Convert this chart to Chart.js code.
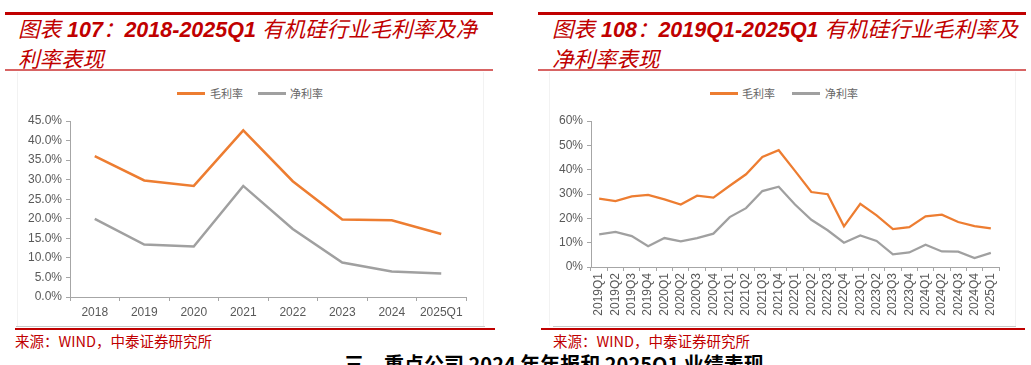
<!DOCTYPE html>
<html>
<head>
<meta charset="utf-8">
<script src="https://cdn.jsdelivr.net/npm/chart.js@4/dist/chart.umd.min.js"></script>
<style>
  body { margin: 0; width: 1031px; height: 365px; overflow: hidden; background: #fff; position: relative;
         font-family: "Liberation Sans", Arial, "Noto Sans CJK SC", sans-serif; }
  .abs { position: absolute; }
  .rule-top { height: 3px; background: #c00000; top: 12px; }
  .rule-mid { height: 2px; background: #d86464; top: 69px; }
  .rule-bot { height: 2px; background: #c00000; top: 328px; }
  .title { top: 14px; color: #c00000; font-size: 21.5px; line-height: 27px; font-weight: bold; font-style: italic;
           font-family: "Liberation Sans", Arial, "Noto Sans CJK SC", sans-serif; white-space: nowrap; }
  .title .cn { font-weight: normal; font-family: "Noto Sans CJK SC", sans-serif; }
  .panel { top: 72px; width: 465px; height: 254px; border-left: 1px solid #f2f2f2; border-right: 1px solid #f2f2f2; }
  .panel-line { top: 326px; height: 1px; background: #c8c8c8; }
  .leg-line { height: 3px; width: 28px; top: 92px; }
  .leg-text { top: 85px; font-size: 11px; color: #666; font-family: "Noto Sans CJK SC", sans-serif; line-height: 16px; }
  .source { top: 331px; font-size: 14.5px; color: #c00000; font-family: "Noto Sans CJK SC", "Liberation Sans", sans-serif; line-height: 20px; white-space: nowrap; }
  .heading { top: 351px; left: 344px; font-size: 20px; font-weight: bold; color: #000; font-family: "Noto Sans CJK SC", sans-serif; line-height: 26px; white-space: nowrap; }
  canvas { position: absolute; }
</style>
</head>
<body>
<div class="abs rule-top" style="left:5px;width:488px"></div>
<div class="abs rule-top" style="left:538px;width:488px"></div>
<div class="abs title" style="left:18px"><span class="cn">图表</span> 107<span class="cn">：</span>2018-2025Q1 <span class="cn">有机硅行业毛利率及净<br>利率表现</span></div>
<div class="abs title" style="left:552px"><span class="cn">图表</span> 108<span class="cn">：</span>2019Q1-2025Q1 <span class="cn">有机硅行业毛利率及<br>净利率表现</span></div>
<div class="abs rule-mid" style="left:5px;width:488px"></div>
<div class="abs rule-mid" style="left:538px;width:488px"></div>

<div class="abs panel" style="left:17px"></div>
<div class="abs panel" style="left:549px"></div>
<div class="abs panel-line" style="left:16px;width:469px"></div>
<div class="abs panel-line" style="left:553px;width:463px"></div>

<div class="abs leg-line" style="left:177px;background:#ed7d31"></div>
<div class="abs leg-text" style="left:210px">毛利率</div>
<div class="abs leg-line" style="left:258px;background:#a0a0a0"></div>
<div class="abs leg-text" style="left:290px">净利率</div>
<div class="abs leg-line" style="left:710px;background:#ed7d31"></div>
<div class="abs leg-text" style="left:742px">毛利率</div>
<div class="abs leg-line" style="left:792px;background:#a0a0a0"></div>
<div class="abs leg-text" style="left:825px">净利率</div>

<canvas id="yearChart" width="466" height="254" style="left:17px;top:72px"></canvas>
<canvas id="quarterChart" width="466" height="254" style="left:550px;top:72px"></canvas>

<div class="abs rule-bot" style="left:15px;width:480px"></div>
<div class="abs rule-bot" style="left:541px;width:484px"></div>
<div class="abs source" style="left:15px">来源：WIND，中泰证券研究所</div>
<div class="abs source" style="left:553px">来源：WIND，中泰证券研究所</div>
<div class="abs heading">三、重点公司 2024 年年报和 2025Q1 业绩表现</div>

<script>
// annual data (%)
const years = ["2018", "2019", "2020", "2021", "2022", "2023", "2024", "2025Q1"];
const yearGross = [36.0, 29.8, 28.4, 42.6, 29.6, 19.8, 19.6, 16.1];
const yearNet = [20.0, 13.4, 12.9, 28.4, 17.4, 8.8, 6.5, 6.0];

// quarterly data (%)
const quarters = [
  "2019Q1", "2019Q2", "2019Q3", "2019Q4", "2020Q1", "2020Q2", "2020Q3", "2020Q4",
  "2021Q1", "2021Q2", "2021Q3", "2021Q4", "2022Q1", "2022Q2", "2022Q3", "2022Q4",
  "2023Q1", "2023Q2", "2023Q3", "2023Q4", "2024Q1", "2024Q2", "2024Q3", "2024Q4", "2025Q1"
];
const quarterGross = [
  28.1, 27.1, 29.0, 29.6, 27.8, 25.7, 29.3, 28.5,
  33.4, 38.1, 45.2, 48.0, 39.5, 30.8, 29.9, 16.7,
  26.0, 21.2, 15.6, 16.4, 20.8, 21.5, 18.5, 16.8, 15.9
];
const quarterNet = [
  13.4, 14.4, 12.7, 8.5, 11.9, 10.5, 11.9, 13.7,
  20.5, 24.2, 31.2, 33.0, 25.7, 19.4, 15.1, 10.0,
  13.0, 10.7, 5.2, 6.0, 9.2, 6.4, 6.3, 3.7, 5.8
];

const axisColor = "#a6a6a6";
const labelColor = "#595959";
const tickFont = { family: "'Liberation Sans', Arial, sans-serif", size: 12 };

function makeChart(id, labels, gross, net, opts) {
  const ctx = document.getElementById(id).getContext("2d");
  return new Chart(ctx, {
    type: "line",
    data: {
      labels,
      datasets: [
        { label: "毛利率", data: gross, borderColor: "#ed7d31", borderWidth: opts.lineWidth, pointRadius: 0, tension: 0 },
        { label: "净利率", data: net, borderColor: "#a0a0a0", borderWidth: opts.lineWidth, pointRadius: 0, tension: 0 },
      ],
    },
    options: {
      responsive: false,
      devicePixelRatio: 1,
      animation: false,
      layout: { padding: { top: 49, right: 17, left: 0, bottom: 0 } },
      plugins: { legend: { display: false }, tooltip: { enabled: false } },
      scales: {
        x: {
          offset: true,
          grid: { offset: true, drawOnChartArea: false, color: axisColor, tickLength: 4 },
          border: { color: axisColor, width: 1 },
          ticks: {
            color: labelColor, font: tickFont, padding: opts.xPad, autoSkip: false,
            maxRotation: opts.rotate, minRotation: opts.rotate,
          },
          afterFit: (s) => { s.height = opts.xHeight; },
        },
        y: {
          min: 0, max: opts.max,
          grid: { drawOnChartArea: false, color: axisColor, tickLength: 4 },
          border: { color: axisColor, width: 1 },
          ticks: {
            stepSize: opts.step, color: labelColor, font: tickFont, padding: 4,
            callback: (v) => v.toFixed(opts.decimals) + "%",
          },
          afterFit: (s) => { s.width = opts.yWidth; },
        },
      },
    },
  });
}

makeChart("yearChart", years, yearGross, yearNet, {
  max: 45, step: 5, decimals: 1, yWidth: 53, xHeight: 29, xPad: 4, rotate: 0, lineWidth: 2.5,
});
makeChart("quarterChart", quarters, quarterGross, quarterNet, {
  max: 60, step: 10, decimals: 0, yWidth: 41, xHeight: 59, xPad: 2, rotate: 90, lineWidth: 2.25,
});
</script>
</body>
</html>
